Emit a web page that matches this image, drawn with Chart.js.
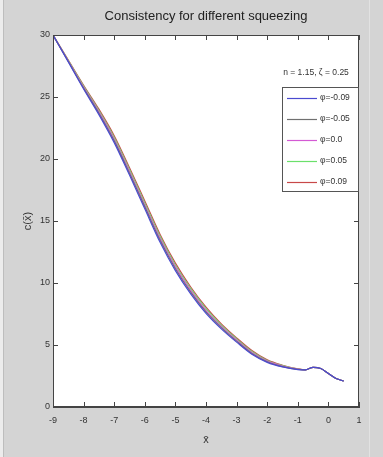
<!DOCTYPE html>
<html>
<head>
<meta charset="utf-8">
<script src="https://cdn.jsdelivr.net/npm/chart.js@4.4.0/dist/chart.umd.min.js"></script>
<style>
html,body{margin:0;padding:0;background:#d4d4d4;}
#wrap{width:383px;height:457px;position:relative;}
</style>
</head>
<body>
<div id="wrap"><canvas id="c" width="383" height="457"></canvas></div>
<script>
// ---- data ----
const xValues = [-9,-8.5,-8,-7.5,-7,-6.5,-6,-5.5,-5,-4.5,-4,-3.5,-3,-2.5,-2,-1.5,-1,-0.75,-0.5,-0.25,0,0.25,0.5];
const phiM09 = [30,27.83,25.65,23.58,21.32,18.7,15.98,13.28,11.0,9.12,7.55,6.3,5.23,4.25,3.6,3.23,3.02,3.0,3.2,3.1,2.7,2.3,2.1];
const phiM05 = [30,27.86,25.72,23.69,21.46,18.85,16.14,13.44,11.15,9.26,7.67,6.4,5.31,4.32,3.65,3.26,3.03,3.0,3.2,3.1,2.7,2.3,2.1];
const phi00  = [30,27.9,25.8,23.8,21.6,19.0,16.3,13.6,11.3,9.4,7.8,6.5,5.4,4.4,3.7,3.3,3.05,3.0,3.2,3.1,2.7,2.3,2.1];
const phiP05 = [30,27.94,25.88,23.91,21.74,19.15,16.46,13.76,11.45,9.54,7.93,6.6,5.49,4.47,3.75,3.34,3.06,3.0,3.2,3.1,2.7,2.3,2.1];
const phiP09 = [30,27.98,25.95,24.02,21.88,19.3,16.62,13.92,11.6,9.68,8.05,6.7,5.57,4.55,3.8,3.37,3.08,3.0,3.2,3.1,2.7,2.3,2.1];
const seriesLabels = ['φ=-0.09','φ=-0.05','φ=0.0','φ=0.05','φ=0.09'];
const seriesColors = ['#4a4ad0','#707070','#d45ad4','#6be06b','#c84848'];
const xTicks = [-9,-8,-7,-6,-5,-4,-3,-2,-1,0,1];
const yTicks = [0,5,10,15,20,25,30];
const titleText = 'Consistency for different squeezing';
const annotText = 'n = 1.15, ζ = 0.25';
const xLabel = 'x̄';
const yLabel = 'c(x̄)';

const allSeries = [phiM09, phiM05, phi00, phiP05, phiP09];
const datasets = allSeries.map((s, i) => ({
  label: seriesLabels[i],
  data: xValues.map((x, j) => ({x: x, y: s[j]})),
  borderColor: seriesColors[i],
  borderWidth: 1.2,
  pointRadius: 0,
  fill: false,
  order: i,
  cubicInterpolationMode: 'monotone'
}));

const frame = {
  id: 'frame',
  beforeDraw(chart) {
    const ctx = chart.ctx;
    ctx.save();
    ctx.fillStyle = '#d4d4d4';
    ctx.fillRect(0, 0, chart.width, chart.height);
    ctx.fillStyle = '#ececec';
    ctx.fillRect(0, 0, 3, chart.height);
    ctx.fillStyle = '#bdbdbd';
    ctx.fillRect(3, 0, 1, chart.height);
    ctx.fillStyle = '#e2e2e2';
    ctx.fillRect(369, 0, 1, chart.height);
    const a = chart.chartArea;
    ctx.fillStyle = '#ffffff';
    ctx.fillRect(a.left, a.top, a.right - a.left, a.bottom - a.top);
    ctx.restore();
  },
  afterDraw(chart) {
    const ctx = chart.ctx;
    const a = chart.chartArea;
    const xs = chart.scales.x, ys = chart.scales.y;
    ctx.save();
    ctx.strokeStyle = '#444';
    ctx.lineWidth = 1;
    ctx.strokeRect(a.left + 0.5, a.top + 0.5, a.right - a.left - 1, a.bottom - a.top - 1);
    ctx.beginPath();
    xTicks.forEach(v => {
      const px = Math.round(xs.getPixelForValue(v)) + 0.5;
      ctx.moveTo(px, a.bottom); ctx.lineTo(px, a.bottom - 5);
      ctx.moveTo(px, a.top); ctx.lineTo(px, a.top + 5);
    });
    yTicks.forEach(v => {
      const py = Math.round(ys.getPixelForValue(v)) + 0.5;
      ctx.moveTo(a.left, py); ctx.lineTo(a.left + 5, py);
      ctx.moveTo(a.right, py); ctx.lineTo(a.right - 5, py);
    });
    ctx.stroke();

    // annotation
    ctx.fillStyle = '#333';
    ctx.font = '8.5px "Liberation Sans", Arial, sans-serif';
    ctx.textAlign = 'center';
    ctx.textBaseline = 'middle';
    ctx.fillText(annotText, 316, 73);

    // legend box
    const lx = 282, ly = 87, lw = a.right - 282, lh = 105;
    ctx.fillStyle = '#fff';
    ctx.fillRect(lx, ly, lw, lh);
    ctx.strokeStyle = '#555';
    ctx.strokeRect(lx + 0.5, ly + 0.5, lw - 1, lh - 1);
    ctx.textAlign = 'left';
    chart.data.datasets.forEach((d, i) => {
      const y = ly + 11 + i * 21;
      ctx.strokeStyle = d.borderColor;
      ctx.lineWidth = 1.2;
      ctx.beginPath(); ctx.moveTo(287, y + 0.5); ctx.lineTo(317, y + 0.5); ctx.stroke();
      ctx.fillStyle = '#333';
      ctx.fillText(d.label, 320, y);
    });
    ctx.restore();
  }
};

new Chart(document.getElementById('c'), {
  type: 'line',
  data: { datasets: datasets },
  plugins: [frame],
  options: {
    responsive: false,
    animation: false,
    layout: { padding: { left: 0, right: 24, top: 0, bottom: 0 } },
    plugins: {
      legend: { display: false },
      tooltip: { enabled: false },
      title: {
        display: true,
        text: titleText,
        fullSize: false,
        color: '#222',
        font: { family: '"Liberation Sans", Arial, sans-serif', size: 13, weight: 'normal' },
        padding: { top: 9, bottom: 10.4 }
      }
    },
    scales: {
      x: {
        type: 'linear',
        min: -9, max: 1,
        afterFit: s => { s.height = 50; },
        afterBuildTicks: s => { s.ticks = xTicks.map(v => ({value: v})); },
        ticks: { color: '#333', padding: 8, font: { family: '"Liberation Sans", Arial, sans-serif', size: 9 } },
        grid: { display: true, drawOnChartArea: false, drawTicks: false },
        border: { display: true, color: '#444' },
        title: { display: true, text: xLabel, color: '#333', padding: { top: 10, bottom: 10 },
                 font: { family: '"Liberation Sans", Arial, sans-serif', size: 11 } }
      },
      y: {
        type: 'linear',
        min: 0, max: 30,
        afterFit: s => { s.width = 53; },
        afterBuildTicks: s => { s.ticks = yTicks.map(v => ({value: v})); },
        ticks: { color: '#333', padding: 3, font: { family: '"Liberation Sans", Arial, sans-serif', size: 9 } },
        grid: { display: true, drawOnChartArea: false, drawTicks: false },
        border: { display: true, color: '#444' },
        title: { display: true, text: yLabel, color: '#333', padding: { top: 21, bottom: 21 },
                 font: { family: '"Liberation Sans", Arial, sans-serif', size: 11 } }
      }
    }
  }
});
</script>
</body>
</html>
